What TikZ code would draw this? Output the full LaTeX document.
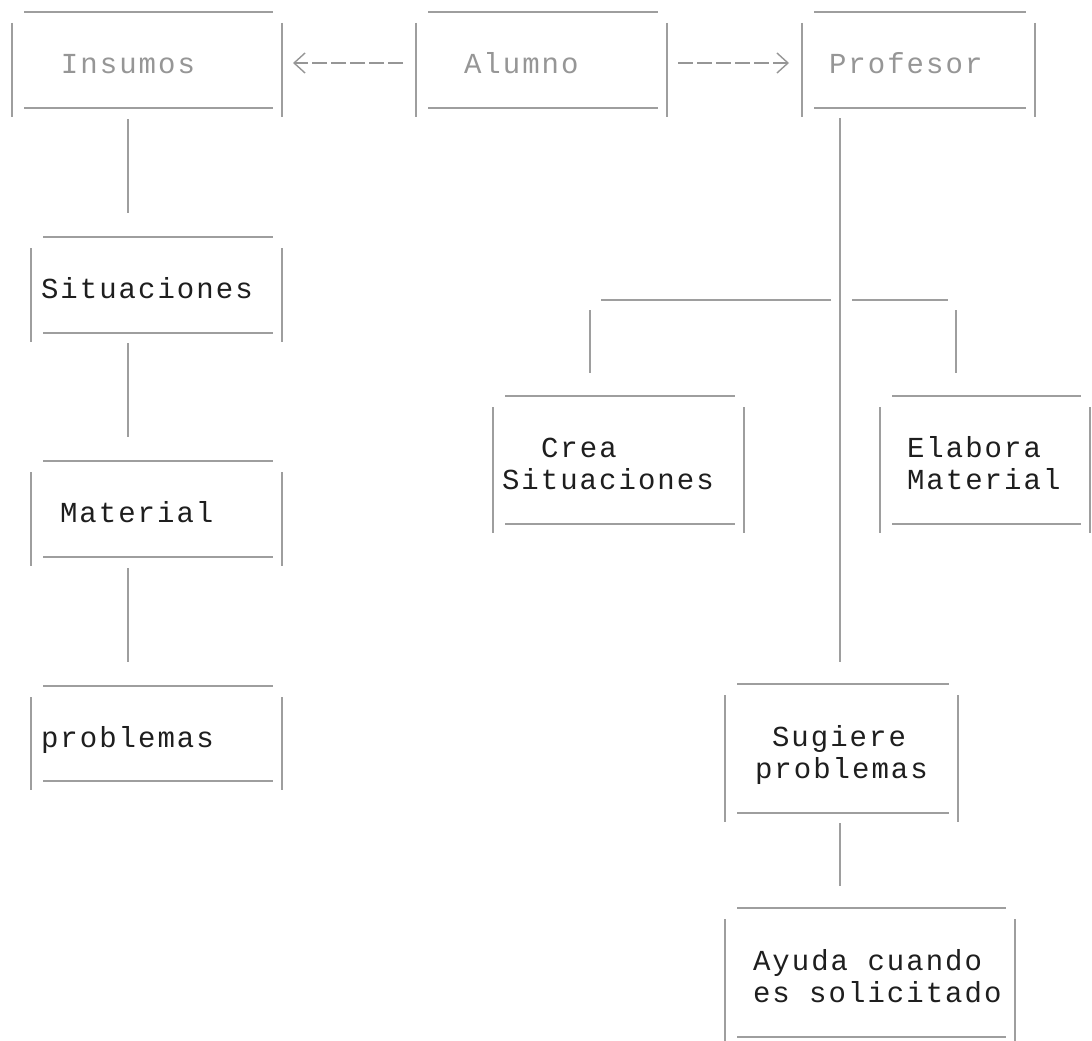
\documentclass[tikz,border=0pt]{standalone}
\usepackage{fontspec}
\newfontfamily\dotfont{Liberation Mono}[HyphenChar=None,LetterSpace=7]
\usetikzlibrary{arrows.meta}
\definecolor{linegray}{RGB}{158,158,158}
\definecolor{lightink}{RGB}{150,150,150}
\definecolor{darkink}{RGB}{30,30,30}
\begin{document}
\begin{tikzpicture}[x=1pt,y=-1pt,
  box/.style={anchor=north west, inner sep=0pt, outer sep=0pt, align=left,
    font=\dotfont\fontsize{29pt}{32pt}\selectfont, execute at begin node={\spaceskip=19.4pt\relax},
    text=darkink, text height=27pt, text depth=0pt},
  twoline/.style={text height=19pt, text depth=24pt},
  faint/.style={text=lightink},
  hl/.style={draw=linegray, line width=1.8pt},
  vl/.style={draw=linegray, line width=2.6pt},
  conn/.style={vl},
  dasharrow/.style={draw=lightink, line width=1.8pt, dash pattern=on 15pt off 4pt,
    -{Straight Barb[length=11pt,width=20pt,line width=1.4pt]}}
]
\fill[white] (0,0) rectangle (1092,1041);
\useasboundingbox (0,0) rectangle (1092,1041);

% top row
\node[box, faint, minimum width=270pt, minimum height=96pt, text width=270pt] (ins) at (12,12) {\hspace*{49pt}Insumos};
\node[box, faint, minimum width=251pt, minimum height=96pt, text width=251pt] (alu) at (416,12) {\hspace*{48pt}Alumno};
\node[box, faint, minimum width=233pt, minimum height=96pt, text width=233pt] (pro) at (802,12) {\hspace*{27pt}Profesor};

% left column
\node[box, minimum width=251pt, minimum height=96pt, text width=251pt] (sit) at (31,237) {\hspace*{10pt}Situaciones};
\node[box, minimum width=251pt, minimum height=96pt, text width=251pt] (mat) at (31,461) {\hspace*{29pt}Material};
\node[box, minimum width=251pt, minimum height=95pt, text width=251pt] (prob) at (31,686) {\hspace*{10pt}problemas};

% right part
\node[box, twoline, minimum width=251pt, minimum height=128pt, text width=251pt] (crea) at (493,396) {\hspace*{48pt}Crea\\\hspace*{9pt}Situaciones};
\node[box, twoline, minimum width=210pt, minimum height=128pt, text width=210pt] (elab) at (880,396) {\hspace*{27pt}Elabora\\\hspace*{27pt}Material};
\node[box, twoline, minimum width=233pt, minimum height=129pt, text width=233pt] (sug) at (725,684) {\hspace*{47pt}Sugiere\\\hspace*{30pt}problemas};
\node[box, twoline, minimum width=290pt, minimum height=129pt, text width=290pt] (ayu) at (725,908) {\hspace*{28pt}Ayuda cuando\\\hspace*{28pt}es solicitado};

% frames
\foreach \b in {ins,alu,pro,sit,mat,prob,crea,elab,sug,ayu}{
  \draw[hl] ([xshift=12pt]\b.north west) -- ([xshift=-9pt]\b.north east);
  \draw[hl] ([xshift=12pt]\b.south west) -- ([xshift=-9pt]\b.south east);
  \draw[vl] ([yshift=-11pt]\b.north west) -- ([yshift=-9pt]\b.south west);
  \draw[vl] ([yshift=-11pt]\b.north east) -- ([yshift=-9pt]\b.south east);
}

% connectors left column
\coordinate (lc) at (128,0);
\draw[conn, shorten <=11pt, shorten >=24pt] (ins.south -| lc) -- (sit.north -| lc);
\draw[conn, shorten <=10pt, shorten >=24pt] (sit.south -| lc) -- (mat.north -| lc);
\draw[conn, shorten <=11pt, shorten >=24pt] (mat.south -| lc) -- (prob.north -| lc);

% profesor trunk and branches
\coordinate (tr) at (840,300);
\coordinate (dl) at (590,300);
\coordinate (dr) at (956,300);
\draw[conn, shorten <=10pt, shorten >=22pt] (pro.south -| tr) -- (sug.north -| tr);
\draw[hl, shorten <=9pt, shorten >=11pt] (tr) -- (dl);
\draw[conn, shorten <=10pt, shorten >=23pt] (dl) -- (dl |- crea.north);
\draw[hl, shorten <=12pt, shorten >=8pt] (tr) -- (dr);
\draw[conn, shorten <=10pt, shorten >=23pt] (dr) -- (dr |- elab.north);
\draw[conn, shorten <=10pt, shorten >=22pt] (sug.south -| tr) -- (ayu.north -| tr);

% dashed arrows
\draw[dasharrow, shorten <=13pt, shorten >=11pt] ([yshift=-3pt]alu.west) -- ([yshift=-3pt]ins.east);
\draw[dasharrow, shorten <=11pt, shorten >=13pt] ([yshift=-3pt]alu.east) -- ([yshift=-3pt]pro.west);
\end{tikzpicture}
\end{document}
